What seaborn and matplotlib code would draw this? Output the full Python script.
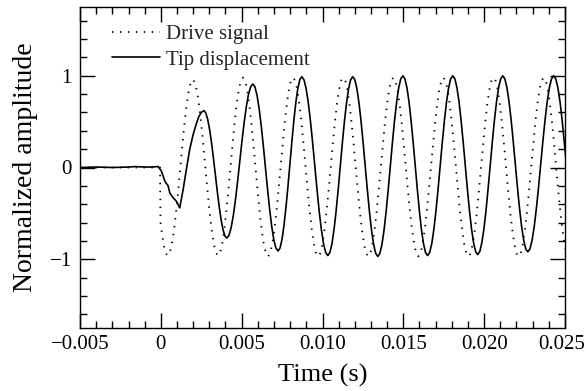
import matplotlib
matplotlib.use("Agg")
import matplotlib.pyplot as plt
import matplotlib.transforms as mtransforms
import seaborn as sns
import pandas as pd
from matplotlib.ticker import MultipleLocator, FixedLocator, FixedFormatter

# ---------------- data (time in ms) ----------------
drive_t_ms = [-5.0, -0.05, -0.02, 0.043, 0.172, 0.301,
              0.43, 0.559, 0.688, 0.818, 0.947, 1.076, 1.205, 1.334, 1.463, 1.593, 1.722, 1.851,
              1.98, 2.109, 2.238, 2.368, 2.497, 2.626, 2.755, 2.884, 3.013, 3.143, 3.272, 3.401,
              3.53, 3.659, 3.788, 3.918, 4.047, 4.176, 4.305, 4.434, 4.563, 4.693, 4.822, 4.951,
              5.08, 5.209, 5.338, 5.468, 5.597, 5.726, 5.855, 5.984, 6.113, 6.243, 6.372, 6.501,
              6.63, 6.759, 6.888, 7.018, 7.147, 7.276, 7.405, 7.534, 7.663, 7.793, 7.922, 8.051,
              8.18, 8.309, 8.438, 8.568, 8.697, 8.826, 8.955, 9.084, 9.213, 9.343, 9.472, 9.601,
              9.73, 9.859, 9.988, 10.118, 10.247, 10.376, 10.505, 10.634, 10.763, 10.893, 11.022, 11.151,
              11.28, 11.409, 11.538, 11.668, 11.797, 11.926, 12.055, 12.184, 12.313, 12.443, 12.572, 12.701,
              12.83, 12.959, 13.088, 13.218, 13.347, 13.476, 13.605, 13.734, 13.863, 13.993, 14.122, 14.251,
              14.38, 14.509, 14.638, 14.768, 14.897, 15.026, 15.155, 15.284, 15.413, 15.543, 15.672, 15.801,
              15.93, 16.059, 16.188, 16.318, 16.447, 16.576, 16.705, 16.834, 16.963, 17.093, 17.222, 17.351,
              17.48, 17.609, 17.738, 17.868, 17.997, 18.126, 18.255, 18.384, 18.513, 18.643, 18.772, 18.901,
              19.03, 19.159, 19.288, 19.418, 19.547, 19.676, 19.805, 19.934, 20.063, 20.193, 20.322, 20.451,
              20.58, 20.709, 20.838, 20.968, 21.097, 21.226, 21.355, 21.484, 21.613, 21.743, 21.872, 22.001,
              22.13, 22.259, 22.388, 22.518, 22.647, 22.776, 22.905, 23.034, 23.163, 23.293, 23.422, 23.551,
              23.68, 23.809, 23.938, 24.068, 24.197, 24.326, 24.455, 24.584, 24.713, 24.843, 24.972, 25.101,
              25.23]
drive_v = [0.0, 0.0, -0.6, -0.686, -0.84, -0.937,
           -0.96, -0.927, -0.831, -0.679, -0.48, -0.249, 0.0, 0.249, 0.48, 0.679, 0.831, 0.927,
           0.96, 0.927, 0.831, 0.679, 0.48, 0.249, 0.0, -0.249, -0.48, -0.679, -0.831, -0.927,
           -0.96, -0.937, -0.84, -0.686, -0.485, -0.251, 0.0, 0.254, 0.49, 0.693, 0.849, 0.947,
           0.98, 0.947, 0.849, 0.693, 0.49, 0.254, 0.0, -0.251, -0.485, -0.686, -0.84, -0.937,
           -0.97, -0.937, -0.84, -0.686, -0.485, -0.251, 0.0, 0.254, 0.49, 0.693, 0.849, 0.947,
           0.98, 0.947, 0.849, 0.693, 0.49, 0.254, 0.0, -0.251, -0.485, -0.686, -0.84, -0.937,
           -0.97, -0.937, -0.84, -0.686, -0.485, -0.251, 0.0, 0.254, 0.49, 0.693, 0.849, 0.947,
           0.98, 0.947, 0.849, 0.693, 0.49, 0.254, 0.0, -0.251, -0.485, -0.686, -0.84, -0.937,
           -0.97, -0.937, -0.84, -0.686, -0.485, -0.251, 0.0, 0.254, 0.49, 0.693, 0.849, 0.947,
           0.98, 0.947, 0.849, 0.693, 0.49, 0.254, 0.0, -0.251, -0.485, -0.686, -0.84, -0.937,
           -0.97, -0.937, -0.84, -0.686, -0.485, -0.251, 0.0, 0.254, 0.49, 0.693, 0.849, 0.947,
           0.98, 0.947, 0.849, 0.693, 0.49, 0.254, 0.0, -0.251, -0.485, -0.686, -0.84, -0.937,
           -0.97, -0.937, -0.84, -0.686, -0.485, -0.251, 0.0, 0.254, 0.49, 0.693, 0.849, 0.947,
           0.98, 0.947, 0.849, 0.693, 0.49, 0.254, 0.0, -0.251, -0.485, -0.686, -0.84, -0.937,
           -0.97, -0.937, -0.84, -0.686, -0.485, -0.251, 0.0, 0.254, 0.49, 0.693, 0.849, 0.947,
           0.98, 0.947, 0.849, 0.693, 0.49, 0.254, 0.0, -0.251, -0.485, -0.686, -0.84, -0.937,
           -0.97]

tip_t_ms = [-5.0, -4.0, -3.0, -2.0, -1.6, -1.0, -0.6, -0.17,
            0.04, 0.25, 0.45, 0.56, 0.76, 0.97, 1.17,
            1.38, 1.58, 1.79, 2.0, 2.2, 2.35, 2.5, 2.66,
            2.778, 2.897, 3.015, 3.133, 3.252, 3.37, 3.488, 3.607, 3.725, 3.843, 3.962, 4.08,
            4.214, 4.348, 4.483, 4.617, 4.751, 4.885, 5.019, 5.153, 5.288, 5.422, 5.556, 5.69,
            5.82, 5.95, 6.08, 6.21, 6.34, 6.47, 6.6, 6.73, 6.86, 6.99, 7.12, 7.25,
            7.373, 7.495, 7.618, 7.74, 7.863, 7.985, 8.108, 8.23, 8.353, 8.475, 8.598, 8.72,
            8.854, 8.988, 9.123, 9.257, 9.391, 9.525, 9.659, 9.793, 9.928, 10.062, 10.196, 10.33,
            10.458, 10.587, 10.715, 10.843, 10.972, 11.1, 11.228, 11.357, 11.485, 11.613, 11.742, 11.87,
            11.999, 12.128, 12.258, 12.387, 12.516, 12.645, 12.774, 12.903, 13.033, 13.162, 13.291, 13.42,
            13.549, 13.678, 13.808, 13.937, 14.066, 14.195, 14.324, 14.453, 14.583, 14.712, 14.841, 14.97,
            15.098, 15.225, 15.353, 15.48, 15.608, 15.735, 15.863, 15.99, 16.118, 16.245, 16.373, 16.5,
            16.63, 16.76, 16.89, 17.02, 17.15, 17.28, 17.41, 17.54, 17.67, 17.8, 17.93, 18.06,
            18.188, 18.317, 18.445, 18.573, 18.702, 18.83, 18.958, 19.087, 19.215, 19.343, 19.472, 19.6,
            19.729, 19.858, 19.988, 20.117, 20.246, 20.375, 20.504, 20.633, 20.763, 20.892, 21.021, 21.15,
            21.279, 21.408, 21.538, 21.667, 21.796, 21.925, 22.054, 22.183, 22.313, 22.442, 22.571, 22.7,
            22.833, 22.967, 23.1, 23.233, 23.367, 23.5, 23.633, 23.767, 23.9, 24.033, 24.167, 24.3,
            24.43, 24.56, 24.69, 24.82, 24.95, 25.08]
tip_v = [0.0, 0.005, 0.0, 0.005, 0.01, 0.005, 0.005, 0.01,
         -0.04, -0.15, -0.2, -0.28, -0.33, -0.37, -0.44,
         -0.24, -0.02, 0.2, 0.36, 0.48, 0.555, 0.6, 0.62,
         0.596, 0.527, 0.416, 0.273, 0.105, -0.075, -0.255, -0.423, -0.566, -0.677, -0.746, -0.77,
         -0.741, -0.657, -0.524, -0.35, -0.148, 0.07, 0.288, 0.49, 0.664, 0.797, 0.881, 0.91,
         0.879, 0.788, 0.643, 0.455, 0.236, 0.0, -0.236, -0.455, -0.643, -0.788, -0.879, -0.91,
         -0.878, -0.783, -0.632, -0.435, -0.206, 0.04, 0.286, 0.515, 0.712, 0.863, 0.958, 0.99,
         0.957, 0.859, 0.704, 0.503, 0.268, 0.015, -0.238, -0.473, -0.674, -0.829, -0.927, -0.96,
         -0.927, -0.829, -0.674, -0.473, -0.238, 0.015, 0.268, 0.503, 0.704, 0.859, 0.957, 0.99,
         0.957, 0.859, 0.703, 0.5, 0.264, 0.01, -0.244, -0.48, -0.683, -0.839, -0.937, -0.97,
         -0.936, -0.838, -0.681, -0.478, -0.24, 0.015, 0.27, 0.508, 0.711, 0.868, 0.966, 1.0,
         0.967, 0.869, 0.713, 0.51, 0.274, 0.02, -0.234, -0.47, -0.673, -0.829, -0.927, -0.96,
         -0.927, -0.829, -0.673, -0.47, -0.234, 0.02, 0.274, 0.51, 0.713, 0.869, 0.967, 1.0,
         0.967, 0.869, 0.714, 0.513, 0.278, 0.025, -0.228, -0.463, -0.664, -0.819, -0.917, -0.95,
         -0.917, -0.819, -0.664, -0.463, -0.228, 0.025, 0.278, 0.513, 0.714, 0.869, 0.967, 1.0,
         0.967, 0.871, 0.719, 0.52, 0.289, 0.04, -0.209, -0.44, -0.639, -0.791, -0.887, -0.92,
         -0.887, -0.791, -0.639, -0.44, -0.209, 0.04, 0.289, 0.52, 0.719, 0.871, 0.967, 1.0,
         0.966, 0.87, 0.72, 0.52, 0.29, 0.05]

x_ticks = [-0.005, 0.0, 0.005, 0.010, 0.015, 0.020, 0.025]
x_tick_labels = ["\u22120.005", "0", "0.005", "0.010", "0.015", "0.020", "0.025"]
y_ticks = [-1, 0, 1]
y_tick_labels = ["\u22121", "0", "1"]
series_labels = ["Drive signal", "Tip displacement"]

# ---------------- plot ----------------
sns.set_theme(style="ticks")
plt.rcParams["font.family"] = ["Liberation Serif", "DejaVu Serif"]

drive_df = pd.DataFrame({"t": [v / 1000.0 for v in drive_t_ms], "y": drive_v})
tip_df = pd.DataFrame({"t": [v / 1000.0 for v in tip_t_ms], "y": tip_v})

fig = plt.figure(figsize=(5.86, 3.91), dpi=100)
ax = fig.add_axes([80 / 586, 1 - 328 / 391, 485 / 586, 321 / 391])

sns.lineplot(data=drive_df, x="t", y="y", ax=ax, color="black", lw=1.3,
             linestyle=(0, (0.8, 3.6)), label=series_labels[0], estimator=None, sort=False)
sns.lineplot(data=tip_df, x="t", y="y", ax=ax, color="black", lw=1.2,
             label=series_labels[1], estimator=None, sort=False)

ax.set_xlim(-0.005, 0.025)
ax.set_ylim(-1.75, 1.75)

ax.xaxis.set_major_locator(FixedLocator(x_ticks))
ax.xaxis.set_major_formatter(FixedFormatter(x_tick_labels))
ax.xaxis.set_minor_locator(MultipleLocator(0.001))
ax.yaxis.set_major_locator(FixedLocator(y_ticks))
ax.yaxis.set_major_formatter(FixedFormatter(y_tick_labels))
ax.yaxis.set_minor_locator(MultipleLocator(0.2))

ax.tick_params(which="both", direction="in", top=True, right=True,
               color="black", width=1.0, labelcolor="black", labelsize=15)
ax.tick_params(which="major", length=10.5)
ax.tick_params(which="minor", length=5)
ax.tick_params(axis="x", which="major", pad=5)
ax.tick_params(axis="y", which="major", pad=6)

for s in ax.spines.values():
    s.set_visible(True)
    s.set_color("black")
    s.set_linewidth(1.0)

ax.set_xlabel("Time (s)", fontsize=19, color="black", labelpad=7)
ax.set_ylabel("Normalized amplitude", fontsize=20, color="black", labelpad=8)

ax.legend(loc="upper left", bbox_to_anchor=(0.066, 0.946), frameon=False,
          fontsize=15, handlelength=2.3, handletextpad=0.3, labelspacing=0.3,
          borderaxespad=0, borderpad=0)

fig.canvas.draw()
last = ax.xaxis.get_major_ticks()[-1].label1
last.set_transform(last.get_transform() +
                   mtransforms.ScaledTranslation(-3 / 100, 0, fig.dpi_scale_trans))

fig.savefig("out.png", dpi=100)
